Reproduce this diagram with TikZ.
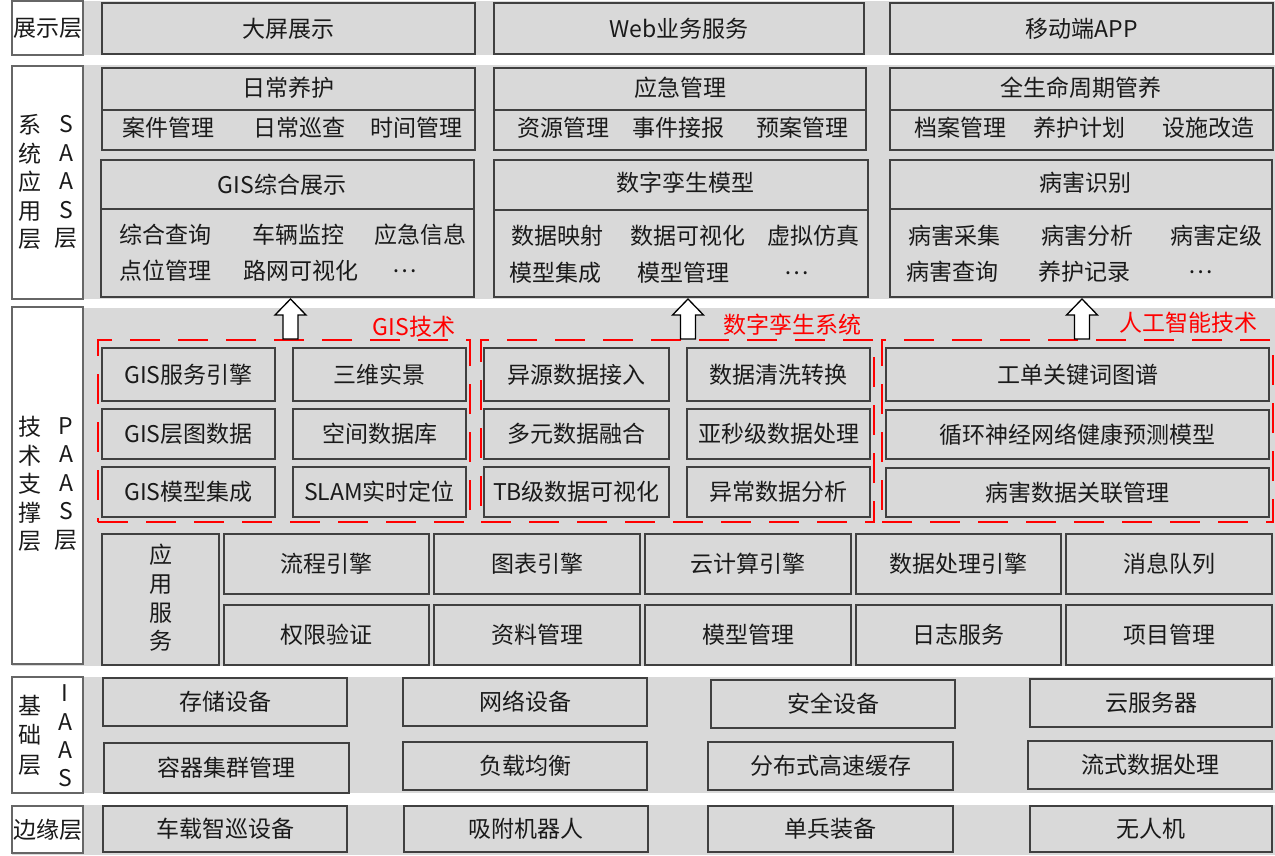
\documentclass[tikz,border=0pt]{standalone}
\usepackage{fontspec}
\setmainfont{Noto Sans CJK SC}
\definecolor{bandgray}{HTML}{D9D9D9}
\definecolor{boxgray}{HTML}{D9D9D9}
\definecolor{edgegray}{HTML}{404040}
\definecolor{txt}{HTML}{1A1A1A}
\definecolor{redd}{HTML}{FF0000}
\newcommand\bx[7]{\node[#6, minimum width={(#4-#2)*1pt}, minimum height={(#5-#3)*1pt}] (#1) at ({(#2+#4)/2},{(#3+#5)/2}) {#7};}
\newcommand\blockarrow[1]{\draw[blockarr] ({#1-7.5},339) -- ({#1-7.5},315) -- ({#1-15.5},315) -- (#1,299) -- ({#1+15.5},315) -- ({#1+7.5},315) -- ({#1+7.5},339) -- cycle;}
\begin{document}
\begin{tikzpicture}[x=1pt,y=-1pt,
  every node/.style={font=\fontsize{23}{28.5}\selectfont, text=txt, inner sep=0pt, outer sep=0pt},
  band/.style={fill=bandgray},
  lblbox/.style={draw=edgegray!80, fill=white, line width=1.2pt, align=center},
  box/.style={draw=edgegray, fill=boxgray, line width=1.4pt, align=center},
  frame/.style={draw=edgegray, fill=boxgray, line width=1.4pt},
  reddash/.style={draw=redd, line width=2.5pt, dash pattern=on 30pt off 18pt},
  redlbl/.style={text=redd},
  blockarr/.style={draw=black, fill=white, line width=1.3pt, line join=miter}
]
\useasboundingbox (0,0) rectangle (1275,855);
\fill[white] (0,0) rectangle (1275,855);
% bands
\fill[band] (12,1) rectangle (1275,55);
\fill[band] (12,65) rectangle (1275,299);
\fill[band] (12,308) rectangle (1275,666);
\fill[band] (12,677) rectangle (1275,793);
\fill[band] (12,805) rectangle (1275,855);

% layer labels
\bx{L1}{12}{1}{83}{55}{lblbox}{展示层}
\bx{L2}{12}{66}{83}{299}{lblbox}{}
\bx{L3}{12}{307}{83}{664}{lblbox}{}
\bx{L4}{12}{677}{83}{793}{lblbox}{}
\bx{L5}{12}{806}{83}{853}{lblbox}{边缘层}
\node[align=center] (L2a) at (30,182) {系\\统\\应\\用\\层};
\node[align=center] (L2b) at (66,182) {S\\A\\A\\S\\层};
\node[align=center] (L3a) at (30,484) {技\\术\\支\\撑\\层};
\node[align=center] (L3b) at (66,484) {P\\A\\A\\S\\层};
\node[align=center, font=\fontsize{23}{29.5}\selectfont] (L4a) at (30,735) {基\\础\\层};
\node[align=center, font=\fontsize{23}{28.3}\selectfont] (L4b) at (65,736) {I\\A\\A\\S};

% display layer
\bx{d1}{102}{3}{475}{54}{box}{大屏展示}
\bx{d2}{494}{3}{864}{54}{box}{Web业务服务}
\bx{d3}{890}{3}{1273}{54}{box}{移动端APP}

% system layer
\bx{s1}{102}{68}{475}{150}{frame}{}
\draw[frame] (s1.west |- 0,110) -- (s1.east |- 0,110);
\node (s1h) at (288,88) {日常养护};
\node (s1a) at (168,128) {案件管理};
\node (s1b) at (299,128) {日常巡查};
\node (s1c) at (416,128) {时间管理};

\bx{s2}{494}{68}{866}{150}{frame}{}
\draw[frame] (s2.west |- 0,110) -- (s2.east |- 0,110);
\node (s2h) at (680,88) {应急管理};
\node (s2a) at (563,128) {资源管理};
\node (s2b) at (678,128) {事件接报};
\node (s2c) at (802,128) {预案管理};

\bx{s3}{890}{68}{1273}{150}{frame}{}
\draw[frame] (s3.west |- 0,110) -- (s3.east |- 0,110);
\node (s3h) at (1081,88) {全生命周期管养};
\node (s3a) at (960,128) {档案管理};
\node (s3b) at (1079,128) {养护计划};
\node (s3c) at (1208,128) {设施改造};

\bx{s4}{101}{160}{474}{297}{frame}{}
\draw[frame] (s4.west |- 0,209) -- (s4.east |- 0,209);
\node (s4h) at (282,185) {GIS综合展示};
\node (s4a) at (165,235) {综合查询};
\node (s4b) at (298,235) {车辆监控};
\node (s4c) at (420,235) {应急信息};
\node (s4d) at (165,271) {点位管理};
\node (s4e) at (301,271) {路网可视化};
\node (s4f) at (405,271) {…};

\bx{s5}{494}{160}{868}{297}{frame}{}
\draw[frame] (s5.west |- 0,210) -- (s5.east |- 0,210);
\node (s5h) at (685,183) {数字孪生模型};
\node (s5a) at (557,236) {数据映射};
\node (s5b) at (688,236) {数据可视化};
\node (s5c) at (813,236) {虚拟仿真};
\node (s5d) at (555,273) {模型集成};
\node (s5e) at (683,273) {模型管理};
\node (s5f) at (797,273) {…};

\bx{s6}{890}{160}{1272}{297}{frame}{}
\draw[frame] (s6.west |- 0,209) -- (s6.east |- 0,209);
\node (s6h) at (1085,183) {病害识别};
\node (s6a) at (954,236) {病害采集};
\node (s6b) at (1087,236) {病害分析};
\node (s6c) at (1216,236) {病害定级};
\node (s6d) at (952,272) {病害查询};
\node (s6e) at (1084,272) {养护记录};
\node (s6f) at (1201,272) {…};

% tech layer groups
\bx{g1}{98}{340}{470}{522}{reddash}{}
\bx{g2}{481}{340}{874}{522}{reddash}{}
\bx{g3}{882}{340}{1273}{522}{reddash}{}
\node[redlbl] (g1l) at (414,327) {GIS技术};
\node[redlbl] (g2l) at (792,325) {数字孪生系统};
\node[redlbl] (g3l) at (1188,323) {人工智能技术};

\bx{t11}{102}{348}{275}{401}{box}{GIS服务引擎}
\bx{t12}{293}{348}{466}{401}{box}{三维实景}
\bx{t21}{102}{409}{275}{459}{box}{GIS层图数据}
\bx{t22}{293}{409}{466}{459}{box}{空间数据库}
\bx{t31}{102}{467}{275}{517}{box}{GIS模型集成}
\bx{t32}{293}{467}{466}{517}{box}{SLAM实时定位}

\bx{u11}{484}{348}{669}{401}{box}{异源数据接入}
\bx{u12}{687}{348}{870}{401}{box}{数据清洗转换}
\bx{u21}{484}{409}{669}{459}{box}{多元数据融合}
\bx{u22}{687}{409}{870}{459}{box}{亚秒级数据处理}
\bx{u31}{484}{467}{669}{517}{box}{TB级数据可视化}
\bx{u32}{687}{467}{870}{517}{box}{异常数据分析}

\bx{v1}{886}{348}{1269}{401}{box}{工单关键词图谱}
\bx{v2}{886}{410}{1269}{459}{box}{循环神经网络健康预测模型}
\bx{v3}{886}{468}{1269}{517}{box}{病害数据关联管理}

% block arrows
\blockarrow{290.5}
\blockarrow{688}
\blockarrow{1082}

% application services
\bx{a0}{102}{534}{219}{665}{box}{}
\node[align=center, font=\fontsize{23}{28.7}\selectfont] (a0t) at (161,598) {应\\用\\服\\务};
\bx{a11}{224}{534}{429}{594}{box}{流程引擎}
\bx{a12}{434}{534}{640}{594}{box}{图表引擎}
\bx{a13}{645}{534}{851}{594}{box}{云计算引擎}
\bx{a14}{856}{534}{1061}{594}{box}{数据处理引擎}
\bx{a15}{1066}{534}{1272}{594}{box}{消息队列}
\bx{a21}{224}{605}{429}{665}{box}{权限验证}
\bx{a22}{434}{605}{640}{665}{box}{资料管理}
\bx{a23}{645}{605}{851}{665}{box}{模型管理}
\bx{a24}{856}{605}{1061}{665}{box}{日志服务}
\bx{a25}{1066}{605}{1272}{665}{box}{项目管理}

% base layer
\bx{b11}{103}{678}{347}{726}{box}{存储设备}
\bx{b12}{403}{678}{647}{726}{box}{网络设备}
\bx{b13}{711}{680}{955}{728}{box}{安全设备}
\bx{b14}{1030}{679}{1272}{727}{box}{云服务器}
\bx{b21}{104}{743}{349}{793}{box}{容器集群管理}
\bx{b22}{403}{742}{647}{790}{box}{负载均衡}
\bx{b23}{708}{742}{953}{790}{box}{分布式高速缓存}
\bx{b24}{1028}{741}{1272}{789}{box}{流式数据处理}

% edge layer
\bx{e1}{103}{806}{347}{852}{box}{车载智巡设备}
\bx{e2}{404}{806}{648}{852}{box}{吸附机器人}
\bx{e3}{708}{806}{953}{852}{box}{单兵装备}
\bx{e4}{1030}{806}{1272}{852}{box}{无人机}
\end{tikzpicture}
\end{document}
